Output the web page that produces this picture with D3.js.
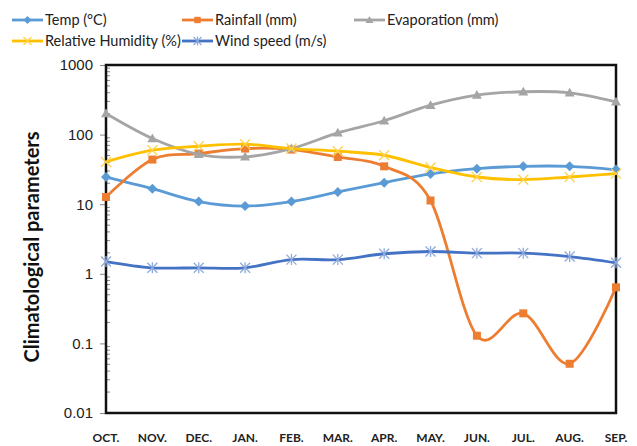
<!DOCTYPE html>
<html>
<head>
<meta charset="utf-8">
<script src="https://cdn.jsdelivr.net/npm/d3@7"></script>
<style>
  body { margin: 0; background: #fff; }
  svg { font-family: Lato, "Open Sans", sans-serif; }
</style>
</head>
<body>
<div id="chart"></div>
<script>
// months along the x axis
const months = ["OCT.", "NOV.", "DEC.", "JAN.", "FEB.", "MAR.", "APR.", "MAY.", "JUN.", "JUL.", "AUG.", "SEP."];

// values
const temp        = [24.5, 16.7, 10.9, 9.4, 10.9, 15, 20.4, 27.2, 32.4, 35, 35, 31.4];
const rainfall    = [12.7, 43.8, 53.3, 63, 61, 47.7, 35, 11.3, 0.129, 0.27, 0.051, 0.64];
const evaporation = [201, 88, 52, 48, 63, 106, 158, 265, 370, 413, 399, 296];
const humidity    = [40.4, 59.6, 68, 72.8, 63, 57.7, 50.5, 33.6, 24.6, 22.5, 24.6, 27.5];
const windSpeed   = [1.5, 1.22, 1.22, 1.22, 1.6, 1.6, 1.94, 2.09, 1.98, 1.98, 1.77, 1.44];

const yTicks = [1000, 100, 10, 1, 0.1, 0.01];

const series = [
  {name: "Temp (°C)", values: temp, color: "#5B9BD5", mcolor: "#5B9BD5", marker: "diamond"},
  {name: "Rainfall (mm)", values: rainfall, color: "#ED7D31", mcolor: "#ED7D31", marker: "square"},
  {name: "Evaporation (mm)", values: evaporation, color: "#A5A5A5", mcolor: "#A5A5A5", marker: "triangle"},
  {name: "Relative Humidity (%)", values: humidity, color: "#FFC000", mcolor: "#FFD24D", marker: "cross"},
  {name: "Wind speed (m/s)", values: windSpeed, color: "#4472C4", mcolor: "#8FAADC", marker: "asterisk"}
];

const W = 637, H = 446;
const margin = {top: 65, right: 21, bottom: 33, left: 106};
const width = W - margin.left - margin.right;
const height = H - margin.top - margin.bottom;

const svg = d3.select("#chart").append("svg")
  .attr("width", W)
  .attr("height", H);

const g = svg.append("g")
  .attr("transform", `translate(${margin.left},${margin.top})`);

const x = d3.scalePoint().domain(months).range([0, width]);
const y = d3.scaleLog().domain([0.01, 1000]).range([height, 0]);

// minor ticks on the log axis (inside)
const minor = [];
for (let e = -2; e < 3; e++) {
  for (let k = 2; k < 10; k++) minor.push(k * Math.pow(10, e));
}
g.selectAll(".minor")
  .data(minor)
  .enter().append("line")
  .attr("x1", 0).attr("x2", 4)
  .attr("y1", d => y(d)).attr("y2", d => y(d))
  .attr("stroke", "#888")
  .attr("stroke-width", 1);

// y axis
const yAxis = g.append("g")
  .call(d3.axisLeft(y).tickValues(yTicks).tickFormat(d => String(d)).tickSize(6).tickPadding(7));
yAxis.select(".domain").remove();
yAxis.selectAll(".tick line").attr("stroke", "#888");
yAxis.selectAll("text")
  .attr("font-size", 15)
  .attr("fill", "#222");

// x labels
g.selectAll(".xlab")
  .data(months)
  .enter().append("text")
  .attr("x", d => x(d))
  .attr("y", height + 29)
  .attr("text-anchor", "middle")
  .attr("font-size", 12)
  .attr("font-weight", "bold")
  .attr("fill", "#222")
  .text(d => d);

// plot frame
g.append("rect")
  .attr("x", 0).attr("y", 0)
  .attr("width", width).attr("height", height)
  .attr("fill", "none")
  .attr("stroke", "#111")
  .attr("stroke-width", 2.5);

// y title
svg.append("text")
  .attr("transform", `translate(39,247) rotate(-90)`)
  .attr("text-anchor", "middle")
  .attr("font-size", 20)
  .attr("font-weight", "bold")
  .attr("fill", "#111")
  .text("Climatological parameters");

const line = d3.line()
  .curve(d3.curveCardinal.tension(0))
  .x((d, i) => x(months[i]))
  .y(d => y(d));

function drawMarker(sel, type, color, s) {
  if (type === "diamond") {
    sel.append("path").attr("d", `M0,${-s}L${s},0L0,${s}L${-s},0Z`).attr("fill", color);
  } else if (type === "square") {
    sel.append("rect").attr("x", -s * 0.8).attr("y", -s * 0.8)
      .attr("width", s * 1.6).attr("height", s * 1.6).attr("fill", color);
  } else if (type === "triangle") {
    sel.append("path").attr("d", `M0,${-s}L${s},${s * 0.75}L${-s},${s * 0.75}Z`).attr("fill", color);
  } else if (type === "cross") {
    sel.append("path").attr("d", `M${-s},${-s}L${s},${s}M${-s},${s}L${s},${-s}`)
      .attr("stroke", color).attr("stroke-width", 1.3);
  } else if (type === "asterisk") {
    sel.append("path")
      .attr("d", `M${-s},${-s}L${s},${s}M${-s},${s}L${s},${-s}M0,${-s * 1.1}L0,${s * 1.1}`)
      .attr("stroke", color).attr("stroke-width", 1.3);
  }
}

series.forEach(s => {
  g.append("path")
    .datum(s.values)
    .attr("fill", "none")
    .attr("stroke", s.color)
    .attr("stroke-width", 2.8)
    .attr("d", line);

  g.selectAll(null)
    .data(s.values)
    .enter().append("g")
    .attr("transform", (d, i) => `translate(${x(months[i])},${y(d)})`)
    .each(function() { drawMarker(d3.select(this), s.marker, s.mcolor, 5); });
});

// legend
const legendPos = [[12, 20], [182, 20], [354, 20], [12, 41], [182, 41]];
series.forEach((s, i) => {
  const lg = svg.append("g").attr("transform", `translate(${legendPos[i][0]},${legendPos[i][1]})`);
  lg.append("line").attr("x1", 0).attr("x2", 31).attr("y1", 0).attr("y2", 0)
    .attr("stroke", s.color).attr("stroke-width", 2.8);
  lg.append("g").attr("transform", "translate(15.5,0)")
    .each(function() { drawMarker(d3.select(this), s.marker, s.mcolor, 4); });
  lg.append("text")
    .attr("x", 33).attr("y", 0).attr("dy", "0.35em")
    .attr("font-size", 14.5)
    .attr("fill", "#222")
    .text(s.name);
});
</script>
</body>
</html>
